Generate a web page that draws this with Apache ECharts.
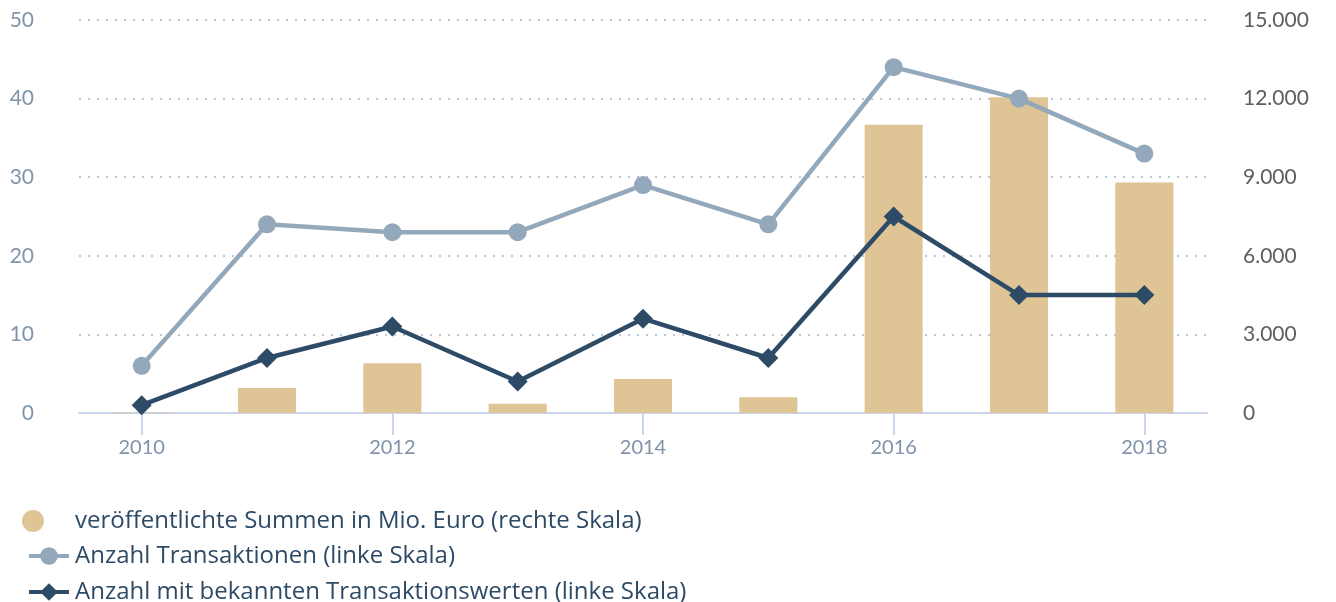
<!DOCTYPE html>
<html><head><meta charset="utf-8">
<script src="https://cdn.jsdelivr.net/npm/echarts@6/dist/echarts.min.js"></script>
<style>html,body{margin:0;padding:0;background:#fff}#c{width:1336px;height:602px}</style>
</head><body><div id="c"></div>
<script>
var years = ['2010','2011','2012','2013','2014','2015','2016','2017','2018'];
var summen = [20, 950, 1900, 350, 1300, 600, 11000, 12050, 8800];
var anzahl = [6, 24, 23, 23, 29, 24, 44, 40, 33];
var bekannt = [1, 7, 11, 4, 12, 7, 25, 15, 15];
var leftTicks = [0, 10, 20, 30, 40, 50];
var rightTicks = [0, 3000, 6000, 9000, 12000, 15000];
var names = ['veröffentlichte Summen in Mio. Euro (rechte Skala)', 'Anzahl Transaktionen (linke Skala)', 'Anzahl mit bekannten Transaktionswerten (linke Skala)'];

var font = 'Lato, "Open Sans", sans-serif';
var lfont = '"Open Sans", sans-serif';
var chart = echarts.init(document.getElementById('c'), null, {renderer:'canvas'});
function fmt(v){ return String(v).replace(/\B(?=(\d{3})+(?!\d))/g, '.'); }
var legendText = {fontSize:24, color:'#2d4a66', fontFamily:lfont, lineHeight:22};
chart.setOption({
  animation:false,
  textStyle:{fontFamily:font},
  grid:{left:79, right:129, top:20, bottom:189, containLabel:false},
  legend:[
    {orient:'vertical', left:22, top:509, padding:0, itemGap:12, itemWidth:22, itemHeight:22,
     textStyle:Object.assign({padding:[0,0,0,26]}, legendText),
     data:[{name:names[0], icon:'circle'}]},
    {orient:'vertical', left:27, top:544, padding:0, height:80, itemGap:12, itemWidth:40, itemHeight:22,
     lineStyle:{width:4},
     textStyle:Object.assign({padding:[0,0,0,1]}, legendText),
     data:[{name:names[1]}, {name:names[2]}]}
  ],
  xAxis:{
    type:'category', data:years, boundaryGap:true,
    axisLine:{lineStyle:{color:'#c9d5ea', width:2}},
    axisTick:{show:true, alignWithLabel:true, interval:1, length:22, lineStyle:{color:'#c9d5ea', width:2}},
    axisLabel:{interval:1, color:'#7f93a8', fontSize:20, margin:25, fontFamily:font}
  },
  yAxis:[
    {type:'value', min:0, max:50, interval:10,
     axisLine:{show:false}, axisTick:{show:false},
     axisLabel:{color:'#8095ab', fontSize:21, margin:45, fontFamily:font},
     splitLine:{show:true, lineStyle:{color:'#b9c6d6', type:[2,7], width:2}}},
    {type:'value', min:0, max:15000, interval:3000,
     axisLine:{show:false}, axisTick:{show:false},
     axisLabel:{color:'#5e5e5e', fontSize:21, margin:36, fontFamily:font, formatter:fmt},
     splitLine:{show:false}}
  ],
  series:[
    {name:names[0], type:'bar', yAxisIndex:1, data:summen, barWidth:58,
     itemStyle:{color:'#dfc496'}, z:1},
    {name:names[1], type:'line', yAxisIndex:0, data:anzahl, symbol:'circle', symbolSize:18,
     lineStyle:{color:'#94a8bb', width:4.5}, itemStyle:{color:'#94a8bb'}, z:3},
    {name:names[2], type:'line', yAxisIndex:0, data:bekannt, symbol:'diamond', symbolSize:20,
     lineStyle:{color:'#2d4a66', width:4.5}, itemStyle:{color:'#2d4a66'}, z:4}
  ]
});
</script></body></html>
